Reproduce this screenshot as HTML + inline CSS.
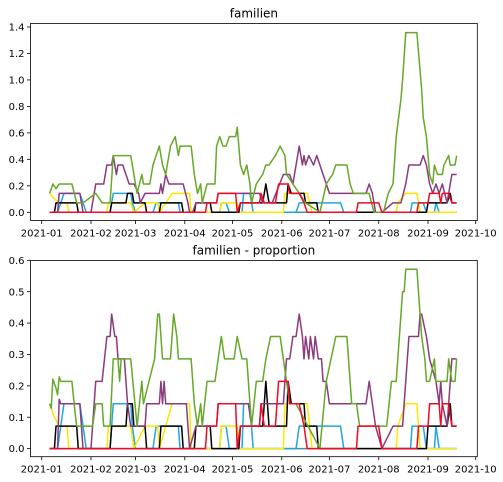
<!DOCTYPE html>
<html><head><meta charset="utf-8">
<style>
body{margin:0;background:#fff;}
svg{display:block;font-family:"DejaVu Sans","Liberation Sans",sans-serif;}
</style></head>
<body>
<svg id="chart" width="503" height="482" viewBox="0 0 503 482" xmlns="http://www.w3.org/2000/svg"></svg>
<script>
// ---- data: [day-offset from 2021-01-01, count level] ; value = level / 14 ----
const xTickLabels = ["2021-01","2021-02","2021-03","2021-04","2021-05","2021-06","2021-07","2021-08","2021-09","2021-10"];
const xTickDays = [0,31,59,90,120,151,181,212,243,273];
const topYTicks = [0.0,0.2,0.4,0.6,0.8,1.0,1.2,1.4];
const propYTicks = [0.0,0.1,0.2,0.3,0.4,0.5,0.6];
const levelDivisor = 14;

const topGreen = [[5,2],[7,3],[9,2.5],[11,3],[19,3],[22,1],[26,1],[34,2],[38,1],[43,1],[45,6],[56,6],[60,2],[63,4],[64,3],[68,3],[70,5],[74,7],[76,5],[78,4],[81,7],[84,8],[86,6],[87,7],[94,7],[96,4],[98,2],[100,3],[101,1],[104,3],[109,3],[110,7],[112,8],[114,7],[116,7],[118,8],[122,8],[123,9],[125,5],[127,4],[129,5],[131,3],[132,1],[135,3],[139,4],[141,5],[143,5],[147,6],[150,7],[153,6],[154,4],[158,3],[166,1],[175,0],[179,3],[183,4],[185,5],[192,5],[194,3],[196,2],[206,2],[209,0],[215,0],[218,2],[221,3],[223,8],[226,12],[227,14],[229,19],[236,19],[239,13],[240,10],[242,8],[244,4],[246,3],[247,5],[249,4],[252,4],[253,5],[256,6],[257,5],[260,5],[261,6]];
const topPurple = [[5,0],[10,0],[11,2],[24,2],[26,0],[31,0],[34,3],[39,3],[41,5],[44,5],[45,6],[47,4],[48,5],[51,5],[53,4],[55,3],[58,3],[61,2],[62,1],[65,2],[74,2],[75,3],[76,2],[78,4],[80,3],[89,3],[92,1],[93,0],[95,0],[97,1],[110,1],[111,2],[137,2],[139,1],[145,1],[152,4],[156,4],[158,3],[160,5],[162,7],[164,5],[165,6],[166,5],[168,6],[171,5],[173,6],[175,5],[177,4],[179,3],[181,2],[204,2],[206,3],[208,2],[210,0],[214,0],[221,1],[226,1],[229,3],[231,5],[238,5],[240,6],[242,5],[244,3],[246,2],[248,3],[250,2],[252,3],[255,1],[258,4],[261,4]];
const propGreen = [[5,2],[6,1.8],[7,3.1],[9,2.7],[10,2.4],[11,3.2],[12,3],[19,3],[21,1.6],[22,1],[32,1],[34,2],[38,2],[39,1],[43,1],[45,4],[48,4],[49,3],[50,4],[56,4],[60,1],[63,3],[64,2],[71,4],[73,6],[74,6],[76,4],[81,4],[82,5],[83,6],[85,5],[86,4],[94,4],[96,2],[98,1],[100,2],[101,1],[104,3],[109,3],[111,4],[113,5],[115,4],[121,4],[123,5],[126,4],[129,4],[130,3],[132,1],[135,3],[139,3],[141,4],[144,5],[150,5],[154,3],[156,2],[160,2],[175,0],[179,3],[182,4],[185,5],[192,5],[195,2],[198,2],[200,1],[217,1],[220,3],[223,3],[227,7],[228,7],[229,8],[236,8],[239,5],[241,4],[242,3],[244,3],[247,4],[248,3],[255,3],[256,4],[258,3],[260,3],[261,4]];
const propPurple = [[5,0],[10,0],[11,2.2],[12,2],[24,2],[25,1],[26,0],[31,0],[34,3],[38,3],[41,5],[43,5],[44,6],[46,5],[47,5],[48,4],[52,4],[54,2],[56,1],[65,1],[66,2],[74,2],[75,3],[76,2],[77,3],[78,2],[91,2],[92,1],[93,0],[97,1],[110,1],[111,2],[130,2],[132,1],[137,1],[138,2],[152,2],[154,4],[156,4],[158,5],[160,5],[162,6],[164,5],[165,4],[166,5],[168,4],[169,5],[171,4],[172,5],[174,4],[176,4],[177,3],[179,3],[181,2],[204,2],[206,3],[208,2],[210,1],[214,0],[221,1],[227,1],[231,5],[237,5],[238,6],[239,6],[242,5],[244,4],[248,3],[250,2],[251,3],[252,2],[255,1],[258,4],[261,4]];
const seriesBlack = [[5,0],[8,0],[9,1],[22,1],[23,0],[43,0],[44,1],[53,1],[54,2],[57,2],[58,1],[65,1],[66,0],[74,0],[75,1],[88,1],[89,0],[96,0],[97,1],[106,1],[107,0],[124,0],[125,1],[139,1],[141,3],[143,1],[147,1],[154,1],[155,3],[157,2],[165,2],[166,1],[173,1],[174,0],[242,0],[243,1],[255,1],[257,2],[258,1],[261,1]];
const seriesYellow = [[5,2],[8,1.4],[11,1],[16,1],[17,0],[41,0],[42,1],[56,1],[58,0],[65,1],[73,1],[74,0],[82,2],[93,2],[94,0],[112,0],[113,1],[123,1],[124,0],[152,0],[153,2],[167,2],[170,0],[223,0],[224,1],[229,2],[236,2],[238,0],[261,0]];
const seriesBlue = [[5,0],[10,0],[12,1],[14,2],[24,2],[26,1],[28,0],[43,0],[45,2],[56,2],[57,1],[59,0],[70,0],[72,1],[86,1],[87,0],[112,0],[113,1],[116,1],[118,0],[126,0],[127,2],[131,2],[133,0],[160,0],[162,1],[188,1],[190,0],[232,0],[233,1],[240,1],[242,0],[247,0],[248,1],[250,0],[261,0]];
const seriesRed = [[5,0],[103,0],[104,1],[110,1],[111,2],[122,2],[123,0],[125,1],[137,1],[138,2],[140,1],[147,1],[148,2],[149,3],[155,3],[156,2],[162,2],[165,1],[167,0],[198,0],[199,1],[212,1],[214,0],[236,0],[237,1],[243,1],[244,2],[250,2],[251,1],[252,2],[256,2],[258,1],[261,1]];
const seriesTeal = [[5,0],[261,0]];

const svg = document.getElementById('chart');
const NS = 'http://www.w3.org/2000/svg';
function mk(tag, attrs){const e=document.createElementNS(NS,tag);for(const k in attrs)e.setAttribute(k,attrs[k]);return e;}

function drawPanel(p){
  const g = mk('g',{});
  
  
  svg.appendChild(g);
  const xS = d => p.x0 + (d/273)*(p.x1 - p.x0);
  const yS = v => p.yZero - (v/p.yMax)*(p.yZero - p.yTop);
  // series
  p.series.forEach(s=>{
    const pts = s.data.map(([d,l])=>xS(d).toFixed(2)+','+yS(l/levelDivisor).toFixed(2)).join(' ');
    const pl = mk('polyline',{points:pts,fill:'none',stroke:s.color,'stroke-width':1.5,'stroke-linejoin':'round'});
    
    
    g.appendChild(pl);
  });
  // frame
  const fr = mk('rect',{x:p.fx0,y:p.fy0,width:p.fx1-p.fx0,height:p.fy1-p.fy0,fill:'none',stroke:'#000','stroke-width':0.8});
  
  
  g.appendChild(fr);
  // x ticks
  xTickDays.forEach((d,i)=>{
    const x = xS(d);
    g.appendChild(mk('line',{x1:x,x2:x,y1:p.fy1,y2:p.fy1+3.5,stroke:'#000','stroke-width':0.8}));
    const t = mk('text',{x:x,y:p.fy1+16,'text-anchor':'middle','font-size':10,fill:'#000'});
    t.textContent = xTickLabels[i];
    
    
    g.appendChild(t);
  });
  // y ticks
  p.yTicks.forEach(v=>{
    const y = yS(v);
    g.appendChild(mk('line',{x1:p.fx0-3.5,x2:p.fx0,y1:y,y2:y,stroke:'#000','stroke-width':0.8}));
    const t = mk('text',{x:p.fx0-6,y:y+3.6,'text-anchor':'end','font-size':10,fill:'#000'});
    t.textContent = v.toFixed(1);
    
    
    g.appendChild(t);
  });
  const title = mk('text',{x:(p.fx0+p.fx1)/2,y:p.fy0-6,'text-anchor':'middle','font-size':12,fill:'#000'});
  title.textContent = p.title;
  
  
  g.appendChild(title);
}

const colors = {teal:'#4a8fa0',blue:'#1ea7e1',yellow:'#ffe600',black:'#000000',red:'#f00a28',purple:'#8b3a7e',green:'#66a82a'};
function seriesSet(green,purple){
  return [
    {name:'series-teal',color:colors.teal,data:seriesTeal},
    {name:'series-blue',color:colors.blue,data:seriesBlue},
    {name:'series-yellow',color:colors.yellow,data:seriesYellow},
    {name:'series-black',color:colors.black,data:seriesBlack},
    {name:'series-purple',color:colors.purple,data:purple},
    {name:'series-green',color:colors.green,data:green},
    {name:'series-red',color:colors.red,data:seriesRed}
  ];
}
drawPanel({name:'counts-panel',title:'familien',x0:41.7,x1:475.7,fx0:30.5,fx1:477.3,fy0:23.5,fy1:220.5,yZero:212.3,yTop:27,yMax:1.4,yTicks:topYTicks,series:seriesSet(topGreen,topPurple)});
drawPanel({name:'proportion-panel',title:'familien - proportion',x0:41.7,x1:475.7,fx0:30.5,fx1:477.3,fy0:260.5,fy1:456.7,yZero:448.6,yTop:260.3,yMax:0.6,yTicks:propYTicks,series:seriesSet(propGreen,propPurple)});
</script>
</body></html>
